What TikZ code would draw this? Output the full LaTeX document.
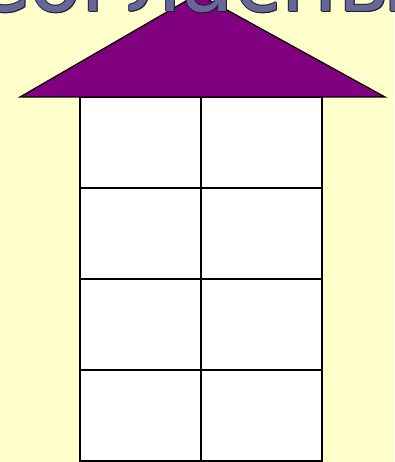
\documentclass[tikz,border=0pt]{standalone}
\usepackage{fontspec}
\newfontfamily\titlefont{DejaVu Sans}
\usepackage{tikz}
\usetikzlibrary{positioning}
\definecolor{paper}{HTML}{FFFFCC}
\definecolor{roofpurple}{HTML}{800080}
\definecolor{wordblue}{HTML}{666699}
\definecolor{wordedge}{HTML}{1E1E33}

\begin{document}
\begin{tikzpicture}[
x=1pt, y=-1pt,
cell/.style={rectangle, draw=black, fill=white, line width=1.5pt, minimum width=121pt, minimum height=91pt, inner sep=0pt},
roof/.style={fill=roofpurple, draw=black, line width=1.2pt, line join=miter},
word/.style={font=\titlefont\fontsize{86}{86}\selectfont, inner sep=0pt, anchor=base}
]

\useasboundingbox (0,0) rectangle (394,462);
\fill[paper] (0,0) rectangle (394,462);
\clip (0,0) rectangle (394,462);

% walls: 4 floors, 2 windows each
\foreach \r in {1,...,4}
  \foreach \c in {1,2}
    \node[cell] (cell-\r-\c) at ({80+121*(\c-0.5)}, {97+91*(\r-0.5)}) {};

% roof
\coordinate (eaveL) at (20,97);
\coordinate (eaveR) at (385,97);
\coordinate (ridge) at (198,-6);
\draw[roof] (eaveL) -- (ridge) -- (eaveR) -- cycle;

% title, cut by the top edge
\foreach \dx/\dy in {-1/0, 1/0, 0/-1, 0/1, 1/1}
  \node[word, text=wordedge] at (214+\dx,12+\dy) {Согласные};
\node[word, text=wordblue] (title) at (214,12) {Согласные};

\end{tikzpicture}
\end{document}
